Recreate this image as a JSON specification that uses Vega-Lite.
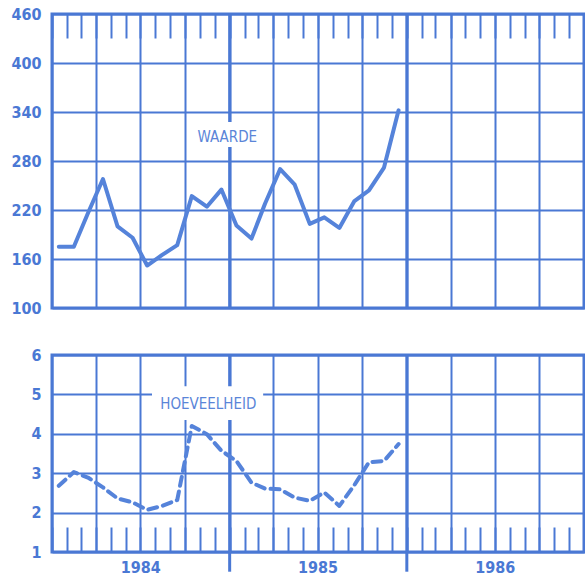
{
  "$schema": "https://vega.github.io/schema/vega-lite/v6.json",
  "padding": {"left": 5, "top": 4, "right": 0, "bottom": 0},
  "background": "white",
  "bounds": "flush",
  "spacing": 47,
  "config": {
    "view": {"stroke": "#4a78d4", "strokeWidth": 3},
    "axis": {
      "labelFont": "DejaVu Sans Condensed, sans-serif",
      "labelFontSize": 16,
      "labelFontWeight": "bold",
      "labelColor": "#4a78d4",
      "labelOverlap": false,
      "gridColor": "#4a78d4",
      "gridWidth": 2,
      "gridOpacity": 1,
      "tickColor": "#4a78d4",
      "tickWidth": 2,
      "tickOpacity": 1,
      "domain": false,
      "title": null
    }
  },
  "data": {
    "values": [
      {"maand": "1984-01-15", "waarde": 175, "hoeveelheid": 2.68},
      {"maand": "1984-02-15", "waarde": 175, "hoeveelheid": 3.03},
      {"maand": "1984-03-15", "waarde": 216, "hoeveelheid": 2.89},
      {"maand": "1984-04-15", "waarde": 258, "hoeveelheid": 2.64},
      {"maand": "1984-05-15", "waarde": 200, "hoeveelheid": 2.36},
      {"maand": "1984-06-15", "waarde": 186, "hoeveelheid": 2.26},
      {"maand": "1984-07-15", "waarde": 152, "hoeveelheid": 2.07},
      {"maand": "1984-08-15", "waarde": 165, "hoeveelheid": 2.17},
      {"maand": "1984-09-15", "waarde": 177, "hoeveelheid": 2.32},
      {"maand": "1984-10-15", "waarde": 237, "hoeveelheid": 4.2},
      {"maand": "1984-11-15", "waarde": 224, "hoeveelheid": 3.99},
      {"maand": "1984-12-15", "waarde": 245, "hoeveelheid": 3.57},
      {"maand": "1985-01-15", "waarde": 201, "hoeveelheid": 3.31},
      {"maand": "1985-02-15", "waarde": 185, "hoeveelheid": 2.76},
      {"maand": "1985-03-15", "waarde": 228, "hoeveelheid": 2.61},
      {"maand": "1985-04-15", "waarde": 270, "hoeveelheid": 2.59},
      {"maand": "1985-05-15", "waarde": 251, "hoeveelheid": 2.38},
      {"maand": "1985-06-15", "waarde": 203, "hoeveelheid": 2.30},
      {"maand": "1985-07-15", "waarde": 211, "hoeveelheid": 2.51},
      {"maand": "1985-08-15", "waarde": 198, "hoeveelheid": 2.17},
      {"maand": "1985-09-15", "waarde": 231, "hoeveelheid": 2.70},
      {"maand": "1985-10-15", "waarde": 244, "hoeveelheid": 3.28},
      {"maand": "1985-11-15", "waarde": 272, "hoeveelheid": 3.31},
      {"maand": "1985-12-15", "waarde": 342, "hoeveelheid": 3.74}
    ]
  },
  "vconcat": [
    {
      "width": 532,
      "height": 294,
      "resolve": {"axis": {"x": "independent"}},
      "layer": [
        {
          "mark": {"type": "line", "color": "#5583da", "strokeWidth": 4, "opacity": 0},
          "encoding": {
            "x": {
              "field": "maand", "type": "temporal",
              "scale": {"type": "utc", "domain": [{"year": 1984, "month": 1, "date": 1, "utc": true}, {"year": 1987, "month": 1, "date": 1, "utc": true}]},
              "axis": {"orient": "bottom", "tickCount": {"interval": "month", "step": 3}, "grid": true, "ticks": false, "labels": false}
            },
            "y": {
              "field": "waarde", "type": "quantitative",
              "scale": {"domain": [100, 460], "nice": false, "zero": false},
              "axis": {"values": [100, 160, 220, 280, 340, 400, 460], "grid": true, "ticks": false, "labelPadding": 11, "minExtent": 45, "maxExtent": 45}
            }
          }
        },
        {
          "data": {"values": [{"jaar": "1985-01-01"}, {"jaar": "1986-01-01"}]},
          "mark": {"type": "rule", "color": "#4a78d4", "strokeWidth": 3},
          "encoding": {
            "x": {
              "field": "jaar", "type": "temporal",
              "axis": {"orient": "top", "tickCount": {"interval": "month", "step": 1}, "tickSize": -24, "labels": false, "grid": false}
            }
          }
        },
        {
          "data": {"values": [{}]},
          "mark": {"type": "rect", "color": "white"},
          "encoding": {
            "x": {"datum": {"year": 1984, "month": 10, "date": 10, "utc": true}, "type": "temporal", "axis": null},
            "x2": {"datum": {"year": 1985, "month": 3, "date": 17, "utc": true}},
            "y": {"datum": 327.7, "type": "quantitative"},
            "y2": {"datum": 297.1}
          }
        },
        {
          "data": {"values": [{}]},
          "mark": {"type": "text", "text": "WAARDE", "font": "DejaVu Sans Condensed, sans-serif", "fontSize": 15, "color": "#5a85d8", "align": "center", "baseline": "middle"},
          "encoding": {
            "x": {"datum": {"year": 1984, "month": 12, "date": 27, "utc": true}, "type": "temporal", "axis": null},
            "y": {"datum": 310, "type": "quantitative"}
          }
        },
        {
          "mark": {"type": "line", "color": "#5583da", "strokeWidth": 4, "strokeJoin": "round", "strokeCap": "round"},
          "encoding": {
            "x": {"field": "maand", "type": "temporal", "axis": null},
            "y": {"field": "waarde", "type": "quantitative"}
          }
        }
      ]
    },
    {
      "width": 532,
      "height": 197,
      "resolve": {"axis": {"x": "independent"}},
      "layer": [
        {
          "mark": {"type": "line", "color": "#5583da", "strokeWidth": 4, "opacity": 0},
          "encoding": {
            "x": {
              "field": "maand", "type": "temporal",
              "scale": {"type": "utc", "domain": [{"year": 1984, "month": 1, "date": 1, "utc": true}, {"year": 1987, "month": 1, "date": 1, "utc": true}]},
              "axis": {"orient": "bottom", "tickCount": {"interval": "month", "step": 3}, "grid": true, "ticks": false, "labels": false}
            },
            "y": {
              "field": "hoeveelheid", "type": "quantitative",
              "scale": {"domain": [1, 6], "nice": false, "zero": false},
              "axis": {"values": [1, 2, 3, 4, 5, 6], "labelOverlap": false, "grid": true, "ticks": false, "labelPadding": 11, "minExtent": 45, "maxExtent": 45}
            }
          }
        },
        {
          "data": {"values": [{"jaar": "1985-01-01"}, {"jaar": "1986-01-01"}]},
          "mark": {"type": "rule", "color": "#4a78d4", "strokeWidth": 3},
          "encoding": {
            "x": {
              "field": "jaar", "type": "temporal",
              "axis": {"orient": "bottom", "tickCount": {"interval": "month", "step": 1}, "tickSize": -25, "grid": false, "labelPadding": 32, "labelFlush": false, "labelExpr": "utcmonth(datum.value) == 6 ? '' + utcyear(datum.value) : ''"}
            },
            "y": {"datum": 0.5, "type": "quantitative", "axis": {"values": [1, 2, 3, 4, 5, 6], "labelOverlap": false, "grid": true, "ticks": false, "labelPadding": 11, "minExtent": 45, "maxExtent": 45}},
            "y2": {"datum": 6}
          }
        },
        {
          "data": {"values": [{}]},
          "mark": {"type": "rect", "color": "white"},
          "encoding": {
            "x": {"datum": {"year": 1984, "month": 7, "date": 25, "utc": true}, "type": "temporal", "axis": null},
            "x2": {"datum": {"year": 1985, "month": 3, "date": 11, "utc": true}},
            "y": {"datum": 5.21, "type": "quantitative", "axis": {"values": [1, 2, 3, 4, 5, 6], "labelOverlap": false, "grid": true, "ticks": false, "labelPadding": 11, "minExtent": 45, "maxExtent": 45}},
            "y2": {"datum": 4.35}
          }
        },
        {
          "data": {"values": [{}]},
          "mark": {"type": "text", "text": "HOEVEELHEID", "font": "DejaVu Sans Condensed, sans-serif", "fontSize": 15, "color": "#5a85d8", "align": "center", "baseline": "middle"},
          "encoding": {
            "x": {"datum": {"year": 1984, "month": 11, "date": 18, "utc": true}, "type": "temporal", "axis": null},
            "y": {"datum": 4.76, "type": "quantitative", "axis": {"values": [1, 2, 3, 4, 5, 6], "labelOverlap": false, "grid": true, "ticks": false, "labelPadding": 11, "minExtent": 45, "maxExtent": 45}}
          }
        },
        {
          "mark": {"type": "line", "color": "#5583da", "strokeWidth": 4, "strokeDash": [9, 6], "strokeCap": "round", "strokeJoin": "round"},
          "encoding": {
            "x": {"field": "maand", "type": "temporal", "axis": null},
            "y": {"field": "hoeveelheid", "type": "quantitative", "axis": {"values": [1, 2, 3, 4, 5, 6], "labelOverlap": false, "grid": true, "ticks": false, "labelPadding": 11, "minExtent": 45, "maxExtent": 45}}
          }
        }
      ]
    }
  ]
}
